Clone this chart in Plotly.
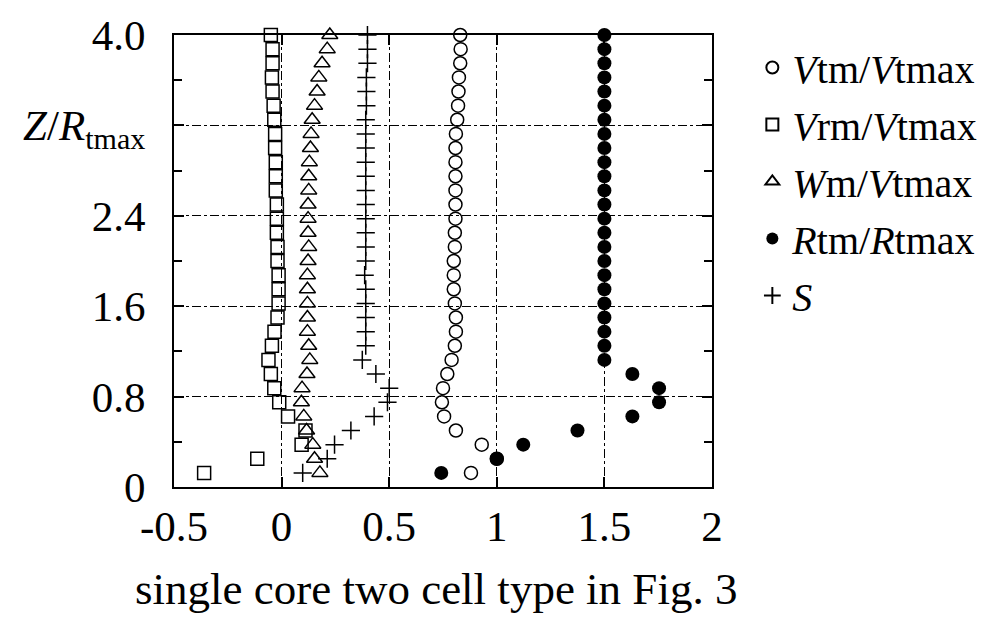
import plotly.graph_objects as go

# Z/Rtmax levels (k = 1..32)
z = [0.125, 0.25, 0.375, 0.5, 0.625, 0.75, 0.875, 1.0, 1.125, 1.25, 1.375, 1.5,
     1.625, 1.75, 1.875, 2.0, 2.125, 2.25, 2.375, 2.5, 2.625, 2.75, 2.875, 3.0,
     3.125, 3.25, 3.375, 3.5, 3.625, 3.75, 3.875, 4.0]

vtm = [0.88, 1.0, 0.93, 0.81, 0.755, 0.745, 0.75, 0.77, 0.79, 0.805, 0.81, 0.81,
       0.805, 0.80, 0.80, 0.80, 0.805, 0.805, 0.808, 0.808, 0.808, 0.808, 0.808, 0.808,
       0.81, 0.816, 0.82, 0.822, 0.824, 0.83, 0.832, 0.83]

vrm = [-0.36, -0.113, 0.093, 0.111, 0.03, -0.011, -0.034, -0.05, -0.061, -0.045, -0.033, -0.019,
       -0.014, -0.014, -0.014, -0.019, -0.019, -0.022, -0.022, -0.022, -0.027, -0.027, -0.027, -0.03,
       -0.03, -0.034, -0.037, -0.042, -0.045, -0.042, -0.042, -0.05]

wm = [0.178, 0.153, 0.145, 0.116, 0.103, 0.092, 0.095, 0.118, 0.131, 0.126, 0.12, 0.12,
      0.12, 0.12, 0.12, 0.123, 0.126, 0.123, 0.123, 0.123, 0.126, 0.126, 0.129, 0.134,
      0.137, 0.142, 0.153, 0.165, 0.173, 0.188, 0.212, 0.224]

rtm = [0.742, 1.0, 1.123, 1.375, 1.63, 1.754, 1.754, 1.63, 1.5, 1.5, 1.5, 1.5,
       1.5, 1.5, 1.5, 1.5, 1.5, 1.5, 1.5, 1.5, 1.5, 1.5, 1.5, 1.5,
       1.5, 1.5, 1.5, 1.5, 1.5, 1.5, 1.5, 1.5]

s = [0.098, 0.212, 0.246, 0.322, 0.43, 0.492, 0.5, 0.438, 0.375, 0.391, 0.391, 0.391,
     0.391, 0.391, 0.386, 0.391, 0.391, 0.391, 0.391, 0.391, 0.391, 0.391, 0.391, 0.391,
     0.391, 0.391, 0.394, 0.394, 0.394, 0.399, 0.399, 0.399]

series_names = ["<i>V</i>tm/<i>V</i>tmax", "<i>V</i>rm/<i>V</i>tmax", "<i>W</i>m/<i>V</i>tmax",
                "<i>R</i>tm/<i>R</i>tmax", "<i>S</i>"]

x_ticks = [-0.5, 0, 0.5, 1, 1.5, 2]
x_ticktext = ["-0.5", "0", "0.5", "1", "1.5", "2"]
y_ticks = [0, 0.8, 1.6, 2.4, 3.2, 4.0]
y_ticktext = ["0", "0.8", "1.6", "2.4", "<i>Z</i>/<i>R</i><sub>tmax</sub>", "4.0"]
y_minor = [0.4, 1.2, 2.0, 2.8, 3.6]
caption = "single core two cell type in Fig. 3"

FONT = "Times New Roman, Liberation Serif, serif"
fig = go.Figure()

def add(xv, sym, name, size, lw=1.5, group="g"):
    fig.add_trace(go.Scatter(
        x=xv, y=z, mode="markers", name=name, legendgroup=group,
        marker=dict(symbol=sym, size=size, color="black",
                    line=dict(color="black", width=lw)),
        cliponaxis=False))

add(vtm, "circle-open", series_names[0], 13, group="a")
add(vrm, "square-open", series_names[1], 13, group="b")
add(wm, "triangle-up-open", series_names[2], 14, group="c")
add(rtm, "circle", series_names[3], 14, lw=0, group="d")
add(s, "cross-thin-open", series_names[4], 13, group="e")

axis_common = dict(
    showline=True, linecolor="black", linewidth=2, mirror="ticks",
    ticks="inside", tickcolor="black", tickwidth=1.5, ticklen=10,
    showgrid=True, gridcolor="black", gridwidth=1, griddash="dashdot",
    zeroline=False, tickfont=dict(family=FONT, size=43, color="black"),
)

fig.update_xaxes(range=[-0.5, 2], tickmode="array", tickvals=x_ticks, ticktext=x_ticktext,
                 ticklabelstandoff=0, **axis_common)
fig.update_yaxes(range=[0, 4.0], tickmode="array", tickvals=y_ticks, ticktext=y_ticktext,
                 ticklabelstandoff=18,
                 minor=dict(tickmode="array", tickvals=y_minor, ticks="inside", ticklen=8,
                            tickcolor="black", tickwidth=1.5, showgrid=False),
                 **axis_common)

fig.add_annotation(text=caption, xref="paper", yref="paper", x=0.487, y=-0.226,
                   xanchor="center", yanchor="middle", showarrow=False,
                   font=dict(family=FONT, size=45, color="black"))

fig.update_layout(
    width=994, height=617,
    margin=dict(l=174, r=282, t=29, b=130),
    paper_bgcolor="white", plot_bgcolor="white",
    font=dict(family=FONT, color="black"),
    legend=dict(x=1.075, y=1.0, xanchor="left", yanchor="top",
                font=dict(family=FONT, size=40, color="black"),
                tracegroupgap=2, itemsizing="constant", bgcolor="rgba(0,0,0,0)"),
)

fig.write_html("out.html")
